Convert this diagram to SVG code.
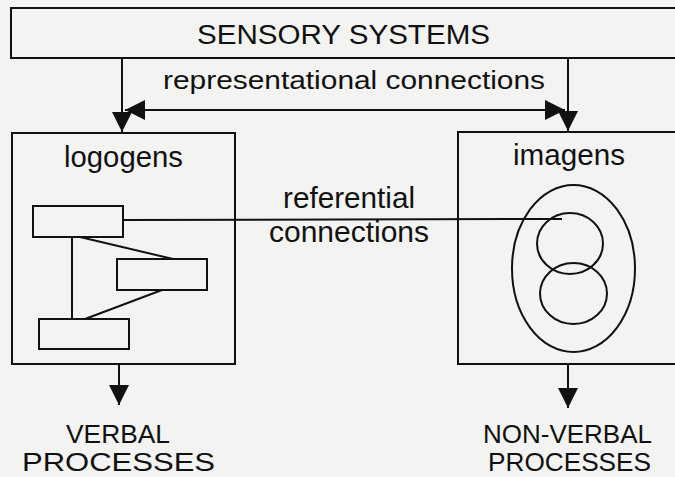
<svg xmlns="http://www.w3.org/2000/svg" width="675" height="477" viewBox="0 0 675 477">
<defs>
<style>
.box{fill:none;stroke:#111;stroke-width:2}
.ln{fill:none;stroke:#111;stroke-width:2}
.t{font-family:"Liberation Sans",Arial,sans-serif;fill:#111}
</style>
<marker id="ahb" viewBox="0 0 10 10" refX="10" refY="5" markerWidth="20" markerHeight="20" markerUnits="userSpaceOnUse" orient="auto-start-reverse">
<path d="M0,0 L10,5 L0,10 Z" fill="#111"/>
</marker>
</defs>
<rect width="675" height="477" fill="#f3f3f2"/>
<g id="sensory">
<rect class="box" x="11" y="8" width="700" height="50"/>
<text class="t" x="197" y="44" font-size="27" textLength="293" lengthAdjust="spacingAndGlyphs">SENSORY SYSTEMS</text>
</g>
<g id="logogens">
<rect class="box" x="12" y="133" width="223" height="231"/>
<text class="t" x="64" y="167" font-size="29" textLength="119" lengthAdjust="spacingAndGlyphs">logogens</text>
<rect class="box" x="33" y="206" width="90" height="31"/>
<rect class="box" x="117" y="259" width="90" height="31"/>
<rect class="box" x="39" y="319" width="90" height="30"/>
<path class="ln" d="M72,237 V319 M80,237 L173,259 M162,290 L85,319"/>
</g>
<g id="imagens">
<rect class="box" x="458" y="132" width="260" height="232"/>
<text class="t" x="513" y="165" font-size="29" textLength="112" lengthAdjust="spacingAndGlyphs">imagens</text>
<ellipse class="box" cx="573.5" cy="268.5" rx="61.5" ry="83.5"/>
<ellipse class="box" cx="570" cy="243.5" rx="33" ry="30.5"/>
<ellipse class="box" cx="573.5" cy="293.5" rx="33.5" ry="30.5"/>
</g>
<g id="verbal">
<text class="t" x="66" y="443" font-size="25" textLength="104" lengthAdjust="spacingAndGlyphs">VERBAL</text>
<text class="t" x="22" y="471" font-size="25" textLength="193" lengthAdjust="spacingAndGlyphs">PROCESSES</text>
</g>
<g id="nonverbal">
<text class="t" x="483" y="443" font-size="25" textLength="169" lengthAdjust="spacingAndGlyphs">NON-VERBAL</text>
<text class="t" x="488" y="471" font-size="25" textLength="163" lengthAdjust="spacingAndGlyphs">PROCESSES</text>
</g>
<g id="connectors">
<line class="ln" x1="122" y1="58" x2="122" y2="132" marker-end="url(#ahb)"/>
<line class="ln" x1="568" y1="58" x2="568" y2="131" marker-end="url(#ahb)"/>
<line class="ln" x1="125" y1="110" x2="565" y2="110" marker-start="url(#ahb)" marker-end="url(#ahb)"/>
<text class="t" x="163" y="89" font-size="26" textLength="382" lengthAdjust="spacingAndGlyphs">representational connections</text>
<line class="ln" x1="123" y1="220" x2="562" y2="219"/>
<text class="t" x="283" y="208" font-size="29" textLength="132" lengthAdjust="spacingAndGlyphs">referential</text>
<text class="t" x="269" y="242" font-size="29" textLength="160" lengthAdjust="spacingAndGlyphs">connections</text>
<line class="ln" x1="119" y1="364" x2="119" y2="405" marker-end="url(#ahb)"/>
<line class="ln" x1="568" y1="364" x2="568" y2="408" marker-end="url(#ahb)"/>
</g>
</svg>
